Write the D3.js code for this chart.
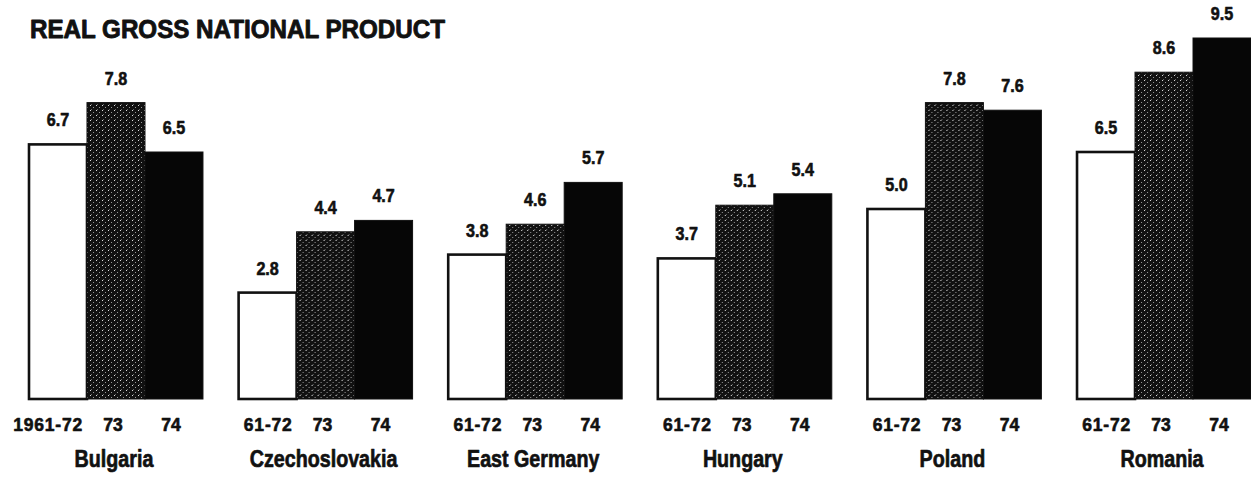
<!doctype html>
<html>
<head>
<meta charset="utf-8" />
<title>Real Gross National Product</title>
<style>
  html,body{margin:0;background:#fff}
  svg{display:block}
  text{stroke:#111;stroke-linejoin:round}
  .title{font-family:"Liberation Sans",Arial,sans-serif;font-weight:700;font-size:26px;fill:#111;stroke-width:0.9}
  .num{font-family:"Liberation Sans",Arial,sans-serif;font-weight:700;font-size:17.5px;fill:#111;stroke-width:0.6}
  .country{font-family:"Liberation Sans",Arial,sans-serif;font-weight:700;font-size:24px;fill:#111;stroke-width:0.7}
</style>
</head>
<body>
<svg id="chart" width="1251" height="477"></svg>
<script src="https://cdn.jsdelivr.net/npm/d3@7"></script>
<script>
// ── data ──────────────────────────────────────────
const countries = ["Bulgaria","Czechoslovakia","East Germany","Hungary","Poland","Romania"];
const periods   = ["61-72","73","74"];
const firstPeriodLabels = ["1961-72","61-72","61-72","61-72","61-72","61-72"];
const avg6172 = [6.7, 2.8, 3.8, 3.7, 5.0, 6.5];
const y1973   = [7.8, 4.4, 4.6, 5.1, 7.8, 8.6];
const y1974   = [6.5, 4.7, 5.7, 5.4, 7.6, 9.5];
const series  = [avg6172, y1973, y1974];

// ── scales ────────────────────────────────────────
const svg = d3.select('#chart');
const W = 1251, base = 399;

const x0 = d3.scaleBand().domain(countries).range([29, W]).paddingInner(0.17).paddingOuter(0);
const x1 = d3.scaleBand().domain(periods).range([0, x0.bandwidth()]).padding(0);
const y  = d3.scaleLinear().domain([0, 10]).range([base, base - 380]);

// squeeze text horizontally (the original face is a condensed grotesque)
function condense(sel, k){
  sel.each(function(){
    const len = this.getComputedTextLength();
    d3.select(this).attr('textLength', len*k).attr('lengthAdjust','spacingAndGlyphs');
  });
}

// stipple texture for the 73 bars
const defs = svg.append('defs');
const p73 = defs.append('pattern').attr('id','stip73')
  .attr('patternUnits','userSpaceOnUse').attr('width',6).attr('height',5);
p73.append('rect').attr('width',6).attr('height',5).attr('fill','#111');
[[1,0,'#ddd'],[4,2,'#999'],[2,4,'#666']].forEach(([px,py,c]) =>
  p73.append('rect').attr('x',px).attr('y',py).attr('width',1).attr('height',1).attr('fill',c));

const fills = {"61-72":"#fff","73":"url(#stip73)","74":"#060606"};

// title
svg.append('text').attr('class','title').attr('x',30).attr('y',38)
  .text('REAL GROSS NATIONAL PRODUCT')
  .attr('textLength',415).attr('lengthAdjust','spacingAndGlyphs');

const rows = countries.map((c,i) => ({
  country: c, idx: i,
  bars: periods.map((p,j) => ({period: p, value: series[j][i]}))
}));

const g = svg.selectAll('g.grp').data(rows).join('g')
  .attr('class','grp')
  .attr('transform', d => `translate(${x0(d.country)},0)`);

// bars
g.selectAll('rect.bar').data(d => d.bars).join('rect')
  .attr('class','bar')
  .attr('x', d => x1(d.period))
  .attr('y', d => y(d.value))
  .attr('width', x1.bandwidth())
  .attr('height', d => base - y(d.value))
  .attr('fill', d => fills[d.period])
  .attr('stroke', '#111')
  .attr('stroke-width', d => d.period === '61-72' ? 2.6 : 1);

// value labels
g.selectAll('text.val').data(d => d.bars).join('text')
  .attr('class','num val')
  .attr('text-anchor','middle')
  .attr('x', d => x1(d.period) + x1.bandwidth()/2)
  .attr('y', d => y(d.value) - 18)
  .text(d => d.value.toFixed(1))
  .call(condense, 0.92);

// period labels
g.selectAll('text.per').data(d => d.bars.map(b => ({...b, idx: d.idx}))).join('text')
  .attr('class','num per')
  .attr('text-anchor', d => d.period === '61-72' ? 'end' : 'middle')
  .attr('x', d => x1(d.period) + x1.bandwidth()/2 + (d.period === '61-72' ? 25 : -3))
  .attr('y', 431)
  .text(d => d.period === '61-72' ? firstPeriodLabels[d.idx] : d.period)
  .attr('letter-spacing', d => d.period === '61-72' ? 0.8 : 0);

// country names
g.append('text').attr('class','country')
  .attr('text-anchor','middle')
  .attr('x', x0.bandwidth()/2 - 2)
  .attr('y', 467)
  .text(d => d.country)
  .call(condense, 0.82);
</script>
</body>
</html>
